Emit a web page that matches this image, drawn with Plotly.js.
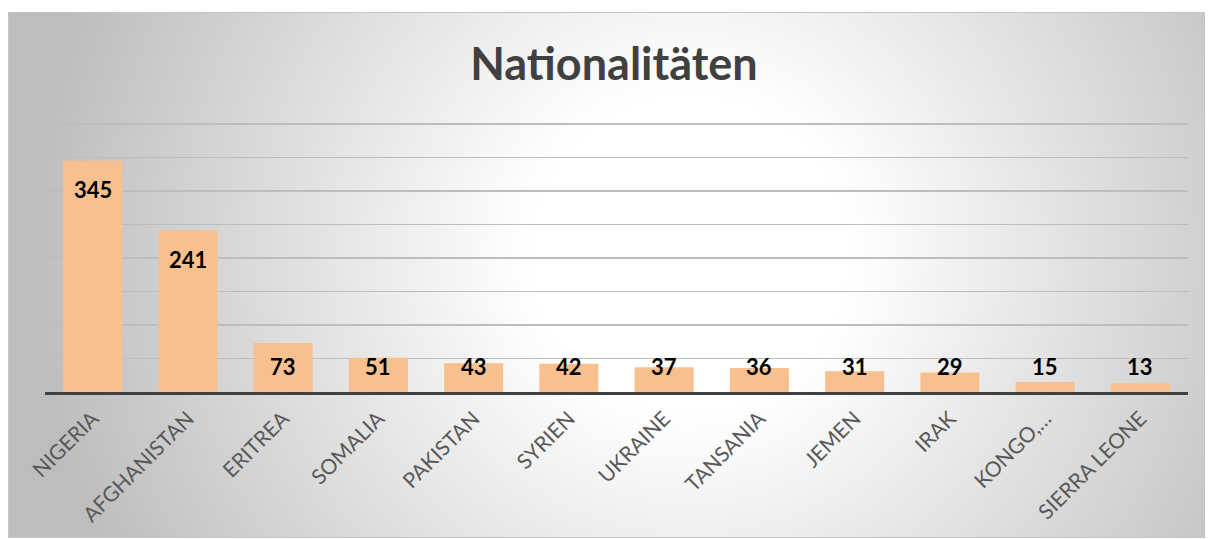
<!DOCTYPE html>
<html>
<head>
<meta charset="utf-8">
<script src="https://cdn.plot.ly/plotly-3.0.1.min.js"></script>
<style>
  html, body { margin: 0; padding: 0; background: #ffffff; }
  #frame {
    position: absolute; left: 8px; top: 12px; width: 1197px; height: 526px;
    border: 1px solid #c4c4c4; box-sizing: border-box;
    background: radial-gradient(circle at 680px 240px, #ffffff 0px, #ffffff 160px, #bdbdbd 660px);
  }
  #chart { position: absolute; left: 0; top: 0; width: 1214px; height: 539px; }
</style>
</head>
<body>
<div id="frame"></div>
<div id="chart"></div>
<script>
const categories = ["NIGERIA", "AFGHANISTAN", "ERITREA", "SOMALIA", "PAKISTAN", "SYRIEN",
                    "UKRAINE", "TANSANIA", "JEMEN", "IRAK", "KONGO,…", "SIERRA LEONE"];
const counts = [345, 241, 73, 51, 43, 42, 37, 36, 31, 29, 15, 13];
const gridValues = [0, 50, 100, 150, 200, 250, 300, 350, 400];

const trace = {
  type: "bar",
  x: categories,
  y: counts,
  marker: { color: "#f9c08f" },
  hoverinfo: "x+y"
};

const labelAnnotations = categories.map((c, i) => ({
  x: c,
  y: Math.max(counts[i] - 43, 38),
  xref: "x", yref: "y",
  text: String(counts[i]),
  showarrow: false,
  yanchor: "middle",
  font: { family: "Lato, 'Open Sans', sans-serif", size: 22, color: "#000000", weight: 700 }
}));

const layout = {
  width: 1214, height: 539,
  paper_bgcolor: "rgba(0,0,0,0)",
  plot_bgcolor: "rgba(0,0,0,0)",
  margin: { l: 45, r: 26, t: 122, b: 147, pad: 0 },
  bargap: 0.38,
  showlegend: false,
  title: {
    text: "<b>Nationalitäten</b>",
    font: { family: "Lato, 'Open Sans', sans-serif", size: 45, color: "#404040" },
    x: 614 / 1214, xref: "container", xanchor: "center",
    y: 1 - 64 / 539, yref: "container", yanchor: "middle"
  },
  xaxis: {
    type: "category",
    tickangle: -45,
    tickfont: { family: "Lato, 'Open Sans', sans-serif", size: 21, color: "#595959" },
    ticklabelstandoff: 3,
    showline: true, linecolor: "#404040", linewidth: 3,
    ticks: "", showgrid: false, zeroline: false,
    fixedrange: true
  },
  yaxis: {
    range: [0, 403],
    tickvals: gridValues,
    showticklabels: false,
    showgrid: true, gridcolor: "#bdbdbd", gridwidth: 1.5,
    zeroline: false, showline: false, ticks: "",
    fixedrange: true
  },
  annotations: labelAnnotations
};

Plotly.newPlot("chart", [trace], layout, { displayModeBar: false, staticPlot: true });
</script>
</body>
</html>
